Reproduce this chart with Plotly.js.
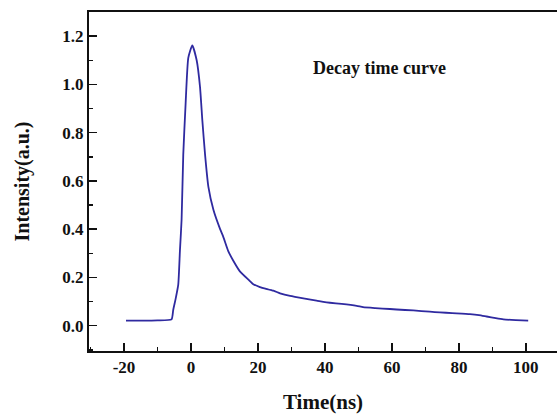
<!DOCTYPE html>
<html>
<head>
<meta charset="utf-8">
<script src="https://cdn.plot.ly/plotly-3.0.1.min.js"></script>
<style>html,body{margin:0;padding:0;background:#fff;}#chart{width:557px;height:414px;}</style>
</head>
<body>
<div id="chart"></div>
<script>
const timeNs = [-19.4, -15, -10, -5.8, -5.3, -4.6, -3.8, -3.3, -2.8, -2.3, -1.6, -0.8, 0.4, 1.7, 2.7, 3.4, 4.2, 5.2, 6.7, 8.7, 9.6, 11.1, 12.6, 14.6, 17.6, 18.6, 20.6, 24.6, 26.6, 29.6, 34, 37.5, 39.5, 41.5, 45, 49.5, 51.4, 55, 59.4, 61.4, 66.4, 71.3, 74.3, 78, 83.3, 86, 88.3, 91, 93.3, 97, 100.7];
const intensity = [0.021, 0.021, 0.022, 0.026, 0.065, 0.11, 0.17, 0.31, 0.44, 0.71, 0.92, 1.11, 1.162, 1.10, 0.99, 0.85, 0.71, 0.575, 0.48, 0.40, 0.37, 0.31, 0.27, 0.225, 0.185, 0.172, 0.160, 0.145, 0.134, 0.123, 0.112, 0.104, 0.099, 0.095, 0.090, 0.082, 0.077, 0.073, 0.069, 0.067, 0.063, 0.058, 0.055, 0.052, 0.048, 0.044, 0.038, 0.031, 0.026, 0.023, 0.021];
const xTicks = [-20, 0, 20, 40, 60, 80, 100];
const yTicks = [0.0, 0.2, 0.4, 0.6, 0.8, 1.0, 1.2];
const yTickLabels = ['0.0', '0.2', '0.4', '0.6', '0.8', '1.0', '1.2'];

const fontFam = 'Liberation Serif, Times New Roman, serif';
const trace = {
  x: timeNs, y: intensity, type: 'scatter', mode: 'lines',
  line: {color: '#2f2aa0', width: 1.8, shape: 'spline', smoothing: 0.5},
  hoverinfo: 'skip'
};
const layout = {
  width: 557, height: 414,
  margin: {l: 89, r: 0, t: 12, b: 63},
  paper_bgcolor: '#fff', plot_bgcolor: '#fff',
  showlegend: false,
  font: {family: fontFam, color: '#111'},
  xaxis: {
    range: [-30.45, 109.3],
    tickvals: xTicks, ticktext: xTicks.map(v => '<b>' + v + '</b>'),
    ticks: 'inside', ticklen: 8, tickwidth: 1.5, tickcolor: '#111',
    minor: {dtick: 10, tick0: 0, ticks: 'inside', ticklen: 4, tickwidth: 1.5, tickcolor: '#111'},
    showline: true, linecolor: '#111', linewidth: 2, mirror: true,
    showgrid: false, zeroline: false,
    tickfont: {family: fontFam, size: 17, color: '#111'},
    title: {text: '<b>Time(ns)</b>', font: {family: fontFam, size: 21, color: '#111'}, standoff: 19}
  },
  yaxis: {
    range: [-0.105, 1.3],
    tickvals: yTicks, ticktext: yTickLabels.map(v => '<b>' + v + '</b>'),
    ticks: 'inside', ticklen: 8, tickwidth: 1.5, tickcolor: '#111',
    minor: {dtick: 0.1, tick0: 0, ticks: 'inside', ticklen: 4, tickwidth: 1.5, tickcolor: '#111'},
    showline: true, linecolor: '#111', linewidth: 2,
    showgrid: false, zeroline: false,
    tickfont: {family: fontFam, size: 17, color: '#111'},
    title: {text: '<b>Intensity(a.u.)</b>', font: {family: fontFam, size: 20, color: '#111'}, standoff: 27}
  },
  annotations: [{
    text: '<b>Decay time curve</b>', x: 0.62, y: 0.835, xref: 'paper', yref: 'paper',
    xanchor: 'center', yanchor: 'middle', showarrow: false,
    font: {family: fontFam, size: 18, color: '#111'}
  }]
};
Plotly.newPlot('chart', [trace], layout, {staticPlot: true, displayModeBar: false});
</script>
</body>
</html>
